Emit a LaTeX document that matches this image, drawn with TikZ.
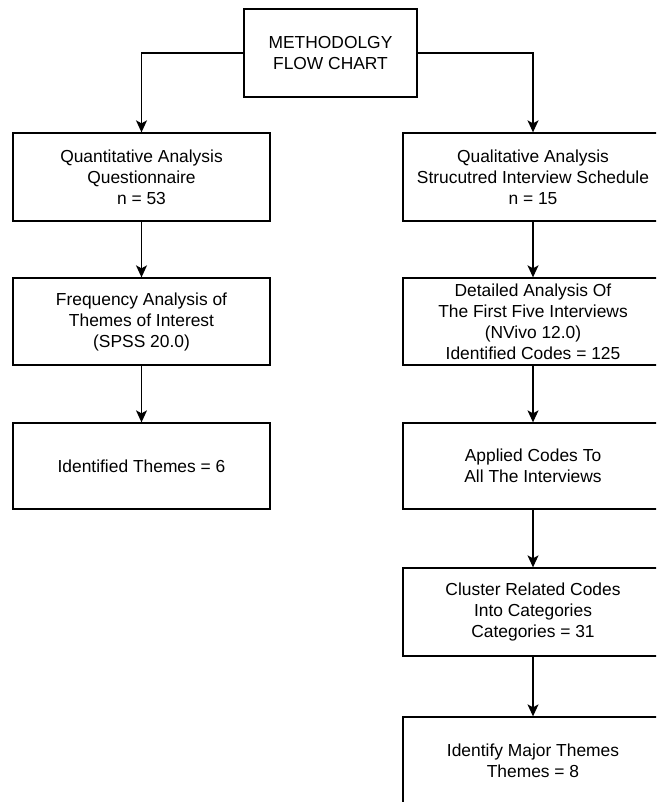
\documentclass[tikz,border=0pt]{standalone}
\usepackage{fontspec}
\setmainfont{Liberation Sans}
\usetikzlibrary{arrows.meta}
\begin{document}
\begin{tikzpicture}[x=1pt,y=-1pt,
  box/.style={draw, line width=1.3pt, rectangle, inner sep=0pt, align=center,
    font=\fontsize{17.4}{21}\selectfont},
  lbox/.style={box, minimum width=257pt},
  rbox/.style={box, minimum width=260pt},
  arr/.style={line width=1.3pt, -{Stealth[length=12pt,width=11pt,inset=3pt]}}]
\clip (0,0) rectangle (656,802);
\fill[white] (0,0) rectangle (656,802);
\node[box, minimum width=173pt, minimum height=88pt] (top) at (330.5,53) {METHODOLGY\\FLOW CHART};
\node[lbox, minimum height=88pt] (L1) at (141.5,177) {Quantitative Analysis\\Questionnaire\\n = 53};
\node[lbox, minimum height=87pt] (L2) at (141.5,321.5) {Frequency Analysis of\\Themes of Interest\\(SPSS 20.0)};
\node[lbox, minimum height=86pt] (L3) at (141.5,466) {Identified Themes = 6};
\node[rbox, minimum height=88pt] (R1) at (533,177) {Qualitative Analysis\\Strucutred Interview Schedule\\n = 15};
\node[rbox, minimum height=87pt] (R2) at (533,321.5) {Detailed Analysis Of\\The First Five Interviews\\(NVivo 12.0)\\Identified Codes = 125};
\node[rbox, minimum height=86pt] (R3) at (533,466) {Applied Codes To\\All The Interviews};
\node[rbox, minimum height=88pt] (R4) at (533,612) {Cluster Related Codes\\Into Categories\\Categories = 31};
\node[rbox, minimum height=88pt] (R5) at (533,761) {Identify Major Themes\\Themes = 8};
\draw[arr] (top.west) -| (L1.north);
\draw[arr] (top.east) -| (R1.north);
\draw[arr] (L1.south) -- (L2.north);
\draw[arr] (L2.south) -- (L3.north);
\draw[arr] (R1.south) -- (R2.north);
\draw[arr] (R2.south) -- (R3.north);
\draw[arr] (R3.south) -- (R4.north);
\draw[arr] (R4.south) -- (R5.north);
\end{tikzpicture}
\end{document}
